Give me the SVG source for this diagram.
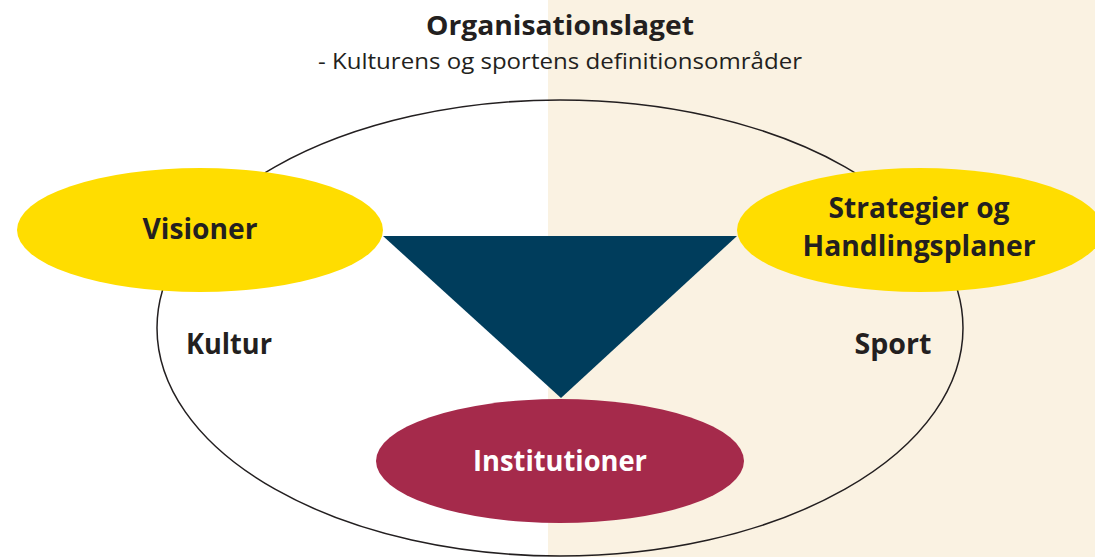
<svg xmlns="http://www.w3.org/2000/svg" width="1095" height="557" viewBox="0 0 1095 557">
<style>
text{font-family:"Open Sans","Noto Sans","Liberation Sans",sans-serif;fill:#231F20;text-anchor:middle}
.b{font-weight:700;font-size:28px}
.w{fill:#FFFFFF}
.yel{fill:#FFDD00}
</style>
<rect x="0" y="0" width="1095" height="557" fill="#FFFFFF"/>
<rect x="548" y="0" width="547" height="557" fill="#FAF2E2"/>
<g id="title">
<text x="560" y="35" font-weight="700" font-size="26" textLength="268" lengthAdjust="spacingAndGlyphs">Organisationslaget</text>
<text x="560" y="69" font-size="21" textLength="484" lengthAdjust="spacingAndGlyphs">- Kulturens og sportens definitionsområder</text>
</g>
<g id="connectors">
<ellipse cx="560" cy="328" rx="403" ry="228" fill="none" stroke="#231F20" stroke-width="1.5"/>
</g>
<g id="triangle">
<polygon points="383,236 737,236 561,398" fill="#003D5C"/>
</g>
<g id="visioner">
<ellipse class="yel" cx="200" cy="230" rx="183" ry="62"/>
<text class="b" x="200" y="239" textLength="115" lengthAdjust="spacingAndGlyphs">Visioner</text>
</g>
<g id="strategier">
<ellipse class="yel" cx="920" cy="230" rx="183" ry="62"/>
<text class="b" x="919" y="218" textLength="181" lengthAdjust="spacingAndGlyphs">Strategier og</text>
<text class="b" x="919" y="256" textLength="233" lengthAdjust="spacingAndGlyphs">Handlingsplaner</text>
</g>
<g id="kultur">
<text class="b" x="229" y="354" textLength="86" lengthAdjust="spacingAndGlyphs">Kultur</text>
</g>
<g id="sport">
<text class="b" x="893" y="354" textLength="77" lengthAdjust="spacingAndGlyphs">Sport</text>
</g>
<g id="institutioner">
<ellipse cx="560" cy="461" rx="184" ry="62" fill="#A52A4B"/>
<text class="b w" x="560" y="471" textLength="174" lengthAdjust="spacingAndGlyphs">Institutioner</text>
</g>
</svg>
